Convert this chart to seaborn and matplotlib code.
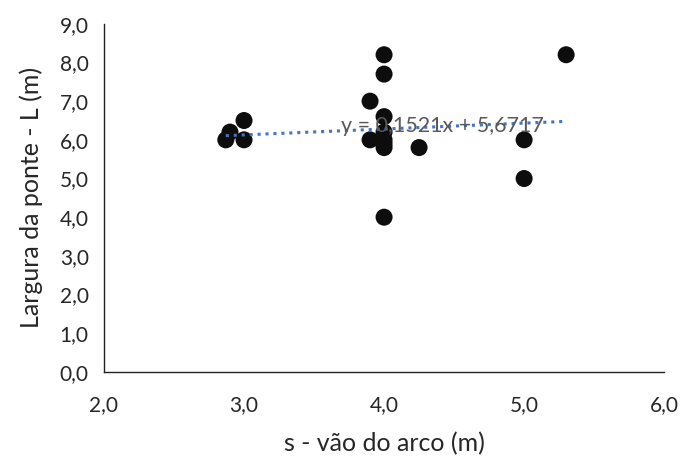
import numpy as np
import pandas as pd
import matplotlib
matplotlib.use("Agg")
import matplotlib.pyplot as plt
import seaborn as sns
from matplotlib.ticker import FuncFormatter

# data
vao = [2.87, 2.90, 3.00, 3.00, 4.00, 4.00, 3.90, 4.00, 3.90, 4.00, 4.00, 4.00, 4.00, 4.25, 4.00, 5.00, 5.00, 5.30]
largura = [6.0, 6.2, 6.5, 6.0, 8.2, 7.7, 7.0, 6.6, 6.0, 6.2, 6.0, 5.9, 5.8, 5.8, 4.0, 6.0, 5.0, 8.2]

# trendline from the chart label
slope = 0.1521
intercept = 5.6717

df = pd.DataFrame({"s": vao, "L": largura})

sns.set_style("white")
plt.rcParams["font.family"] = ["Lato", "DejaVu Sans"]

fig, ax = plt.subplots(figsize=(6.84, 4.58), dpi=100)
fig.subplots_adjust(left=0.152, right=0.971, bottom=0.188, top=0.948)

sns.scatterplot(data=df, x="s", y="L", color="#0d0d0d", s=150, edgecolor="none", ax=ax, zorder=2)

xs = np.array([min(vao), max(vao)])
ax.plot(xs, slope * xs + intercept, linestyle=(0, (1, 1.6)), color="#4472C4", linewidth=2.2, zorder=3)

eq = "y = {:.4f}x + {:.4f}".format(slope, intercept).replace(".", ",")
ax.text(4.42, 6.35, eq, color="#595959", fontsize=15.5, ha="center", va="center", zorder=4)

ax.set_xlim(2, 6)
ax.set_ylim(0, 9)
ax.set_xticks(np.arange(2, 6.01, 1))
ax.set_yticks(np.arange(0, 9.01, 1))
fmt = FuncFormatter(lambda v, p: "{:.1f}".format(v).replace(".", ","))
ax.xaxis.set_major_formatter(fmt)
ax.yaxis.set_major_formatter(fmt)

ax.set_xlabel("s - vão do arco (m)", fontsize=18, labelpad=12)
ax.set_ylabel("Largura da ponte - L (m)", fontsize=18, labelpad=12)
ax.tick_params(axis="both", labelsize=15, direction="out", length=5, width=1, color="#222222", pad=6)
ax.tick_params(axis="x", pad=12)

for side in ["top", "right"]:
    ax.spines[side].set_visible(False)
for side in ["left", "bottom"]:
    ax.spines[side].set_color("#222222")
    ax.spines[side].set_linewidth(1)

plt.savefig("out.png", dpi=100)
